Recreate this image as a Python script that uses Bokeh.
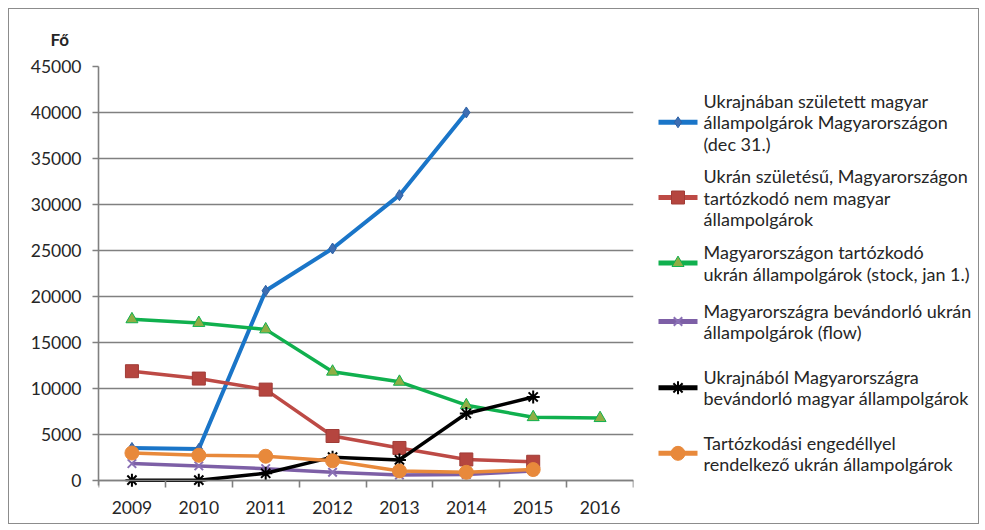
from bokeh.plotting import figure
from bokeh.models import Range1d, FixedTicker, Title
from bokeh.layouts import row
from bokeh.embed import file_html
from bokeh.resources import INLINE
from bokeh.core.properties import value

# ---------------- data ----------------
years = [2009, 2010, 2011, 2012, 2013, 2014, 2015, 2016]
y_ticks = [0, 5000, 10000, 15000, 20000, 25000, 30000, 35000, 40000, 45000]

born_ua_hu_citizens = [3500, 3400, 20600, 25200, 31000, 40000]          # 2009-2014
born_ua_non_hu = [11850, 11050, 9850, 4800, 3500, 2250, 2000]            # 2009-2015
ua_citizens_stock = [17500, 17100, 16400, 11800, 10700, 8150, 6850, 6750]  # 2009-2016
ua_immigrants_flow = [1800, 1550, 1250, 850, 550, 600, 1000]             # 2009-2015
hu_immigrants_from_ua = [0, 0, 750, 2500, 2200, 7250, 9050]              # 2009-2015
residence_permits = [2950, 2700, 2600, 2100, 1000, 850, 1150]            # 2009-2015

labels = [
    ["Ukrajnában született magyar", "állampolgárok Magyarországon", "(dec 31.)"],
    ["Ukrán születésű, Magyarországon", "tartózkodó nem magyar", "állampolgárok"],
    ["Magyarországon tartózkodó", "ukrán állampolgárok (stock, jan 1.)"],
    ["Magyarországra bevándorló ukrán", "állampolgárok (flow)"],
    ["Ukrajnából Magyarországra", "bevándorló magyar állampolgárok"],
    ["Tartózkodási engedéllyel", "rendelkező ukrán állampolgárok"],
]
y_title = "Fő"

# ---------------- styles ----------------
FONT = "Lato"
TXT = "#262626"
GRAY = "#808080"

styles = [
    dict(line="#1a75c8", marker="diamond", fill="#3d6eb3", mline="#2e62a6", size=11, lw=4),
    dict(line="#bd4a45", marker="square", fill="#b5453f", mline="#a03c37", size=13, lw=3.5),
    dict(line="#10b04e", marker="triangle", fill="#8fae45", mline="#10b04e", size=12, lw=3.5),
    dict(line="#7d5fa6", marker="x", fill="#8a70b5", mline="#8a70b5", size=12, lw=3.5),
    dict(line="#000000", marker="asterisk", fill="#000000", mline="#000000", size=13, lw=3.5),
    dict(line="#e8893b", marker="circle", fill="#e8893b", mline="#e8893b", size=14, lw=3.5),
]
series = [born_ua_hu_citizens, born_ua_non_hu, ua_citizens_stock,
          ua_immigrants_flow, hu_immigrants_from_ua, residence_permits]

# ---------------- chart ----------------
p = figure(width=640, height=514,
           x_range=Range1d(years[0] - 0.5, years[-1] + 0.5),
           y_range=Range1d(-4500, 45000),
           output_backend="svg", toolbar_location=None,
           min_border_left=89, min_border_right=16,
           min_border_top=57, min_border_bottom=2,
           outline_line_color=None)

p.xgrid.visible = False
p.ygrid.ticker = FixedTicker(ticks=y_ticks)
p.ygrid.grid_line_color = GRAY
p.ygrid.grid_line_width = 1.6

p.yaxis.ticker = FixedTicker(ticks=y_ticks)
p.yaxis.major_tick_out = 6
p.yaxis.major_tick_in = 0
p.yaxis.minor_tick_out = 0
p.yaxis.minor_tick_in = 0
p.yaxis.major_label_standoff = 11
p.yaxis.bounds = (-600, 45000)

p.xaxis.ticker = FixedTicker(ticks=years,
                             minor_ticks=[y - 0.5 for y in years] + [years[-1] + 0.5])
p.xaxis.fixed_location = 0
p.xaxis.major_tick_out = 0
p.xaxis.major_tick_in = 0
p.xaxis.minor_tick_out = 7
p.xaxis.minor_tick_in = 0
p.xaxis.major_label_standoff = 14

for ax in (p.xaxis, p.yaxis):
    ax.axis_line_color = GRAY
    ax.axis_line_width = 1.6
    ax.major_tick_line_color = GRAY
    ax.major_tick_line_width = 1.6
    ax.minor_tick_line_color = GRAY
    ax.minor_tick_line_width = 1.6
    ax.major_label_text_font = FONT
    ax.major_label_text_font_size = "17.5px"
    ax.major_label_text_color = TXT

for vals, st in zip(series, styles):
    xs = years[:len(vals)]
    p.line(xs, vals, line_color=st["line"], line_width=st["lw"])
    p.scatter(xs, vals, marker=st["marker"], size=st["size"],
              fill_color=st["fill"], line_color=st["mline"],
              line_width=2 if st["marker"] in ("x", "asterisk") else 1)

p.add_layout(Title(text=y_title, align="left", offset=-48, standoff=34,
                   text_line_height=1.0,
                   text_font=FONT, text_font_size="17px", text_font_style="bold",
                   text_color=TXT), "above")

# ---------------- legend panel ----------------
LW, LH = 329, 514
q = figure(width=LW, height=LH, x_range=Range1d(0, LW), y_range=Range1d(LH, 0),
           output_backend="svg", toolbar_location=None,
           min_border=0, outline_line_color=None)
q.axis.visible = False
q.grid.visible = False

centers = [63, 148, 222, 288, 363, 437]
line_h = 24
x0, x1, xt = 9, 48, 54
for lab, st, c in zip(labels, styles, centers):
    q.line([x0, x1], [c, c], line_color=st["line"], line_width=5)
    q.scatter([(x0 + x1) / 2], [c], marker=st["marker"], size=st["size"],
              fill_color=st["fill"], line_color=st["mline"],
              line_width=2 if st["marker"] in ("x", "asterisk") else 1)
    n = len(lab)
    ys = [c + (k - (n - 1) / 2) * line_h for k in range(n)]
    q.text(x=[xt] * n, y=ys, text=lab, text_font=value(FONT), text_font_size="18px",
           text_color=TXT, text_baseline="middle", text_align="left")

layout = row(p, q, styles={"border": "1px solid #8c8c8c", "margin": "8px 0 0 8px"})

open("out.html", "w").write(file_html(layout, INLINE))
